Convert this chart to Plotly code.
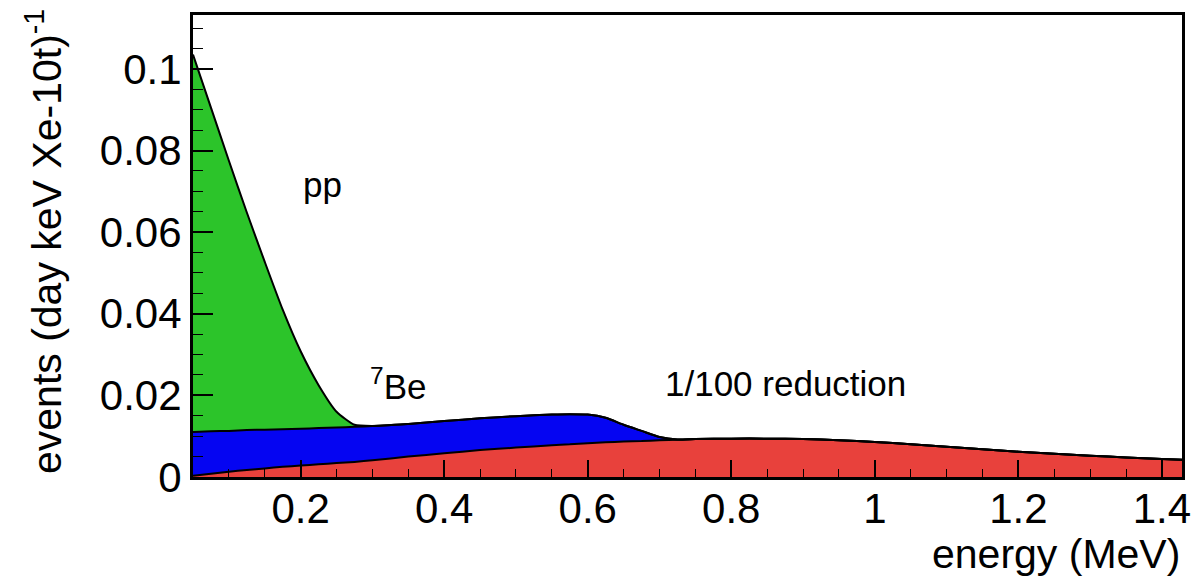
import plotly.graph_objects as go

# Electron-recoil energy grid (MeV)
energy = [0.05, 0.075, 0.10, 0.125, 0.15, 0.175, 0.20, 0.225, 0.25, 0.275,
          0.30, 0.35, 0.40, 0.45, 0.50, 0.55, 0.575, 0.60, 0.625, 0.65,
          0.675, 0.70, 0.725, 0.75, 0.80, 0.85, 0.90, 0.95, 1.00, 1.05,
          1.10, 1.15, 1.20, 1.25, 1.30, 1.35, 1.40, 1.43]

# Reduced background (1/100), events (day keV Xe-10t)^-1
reduced = [0.0003, 0.0008, 0.0013, 0.0017, 0.0021, 0.0025, 0.0028, 0.0031, 0.0034, 0.0037,
           0.0041, 0.0050, 0.0058, 0.0066, 0.0072, 0.0078, 0.0080, 0.0083, 0.0085, 0.0087,
           0.0088, 0.0090, 0.0091, 0.0093, 0.0094, 0.0094, 0.0093, 0.0090, 0.0086, 0.0080,
           0.0074, 0.0068, 0.0062, 0.0057, 0.0052, 0.0048, 0.0044, 0.0042]

# 7Be solar neutrino component
be7 = [0.0107, 0.0104, 0.0100, 0.0098, 0.0095, 0.0092, 0.0090, 0.0089, 0.0087, 0.0086,
       0.0084, 0.0080, 0.0079, 0.0078, 0.0077, 0.0075, 0.0074, 0.0070, 0.0060, 0.0041,
       0.0025, 0.0008, 0.0001, 0.0, 0.0, 0.0, 0.0, 0.0, 0.0, 0.0,
       0.0, 0.0, 0.0, 0.0, 0.0, 0.0, 0.0, 0.0]

# pp solar neutrino component
pp = [0.0925, 0.0793, 0.0662, 0.0533, 0.0411, 0.0293, 0.0190, 0.0105, 0.0039, 0.0005,
      0.0, 0.0, 0.0, 0.0, 0.0, 0.0, 0.0, 0.0, 0.0, 0.0,
      0.0, 0.0, 0.0, 0.0, 0.0, 0.0, 0.0, 0.0, 0.0, 0.0,
      0.0, 0.0, 0.0, 0.0, 0.0, 0.0, 0.0, 0.0]

FONT = "Liberation Sans, Arial, Helvetica, sans-serif"

fig = go.Figure()
for name, vals, color in [("1/100 reduction", reduced, "#e8413c"),
                          ("7Be", be7, "#0505f2"),
                          ("pp", pp, "#2cc42a")]:
    fig.add_trace(go.Scatter(
        x=energy, y=vals, name=name, mode="lines", stackgroup="one",
        fillcolor=color,
        line=dict(color="black", width=2, shape="spline", smoothing=0.6),
        hoverinfo="x+y+name",
    ))

labels = [("pp", 0.230, 0.0716), ("<sup>7</sup>Be", 0.336, 0.0228),
          ("1/100 reduction", 0.875, 0.0228)]
for text, xv, yv in labels:
    fig.add_annotation(x=xv, y=yv, text=text, showarrow=False,
                       font=dict(family=FONT, size=35, color="black"),
                       xanchor="center", yanchor="middle")

# axis titles, ROOT style: x title flush right, y title rotated
fig.add_annotation(xref="paper", yref="paper", x=1.0, y=-0.112,
                   text="energy (MeV)", showarrow=False,
                   xanchor="right", yanchor="top",
                   font=dict(family=FONT, size=41, color="black"))
fig.add_annotation(xref="paper", yref="paper", x=-0.150, y=0.51,
                   text="events (day keV Xe-10t)<sup>-1</sup>", showarrow=False,
                   textangle=-90, xanchor="center", yanchor="middle",
                   font=dict(family=FONT, size=41, color="black"))

axis_common = dict(showgrid=False, zeroline=False, showline=True, mirror=True,
                   linecolor="black", linewidth=3, ticks="inside",
                   tickcolor="black", tickwidth=1.5,
                   tickfont=dict(family=FONT, size=42, color="black"))

fig.update_xaxes(range=[0.05, 1.428], dtick=0.2, tick0=0, ticklen=17,
                 ticklabelstandoff=-7,
                 minor=dict(dtick=0.05, ticks="inside", ticklen=8,
                            tickcolor="black", tickwidth=1.2),
                 **axis_common)
fig.update_yaxes(range=[0, 0.1132], dtick=0.02, tick0=0, ticklen=20,
                 minor=dict(dtick=0.005, ticks="inside", ticklen=10,
                            tickcolor="black", tickwidth=1.2),
                 **axis_common)

fig.update_layout(width=1203, height=576,
                  margin=dict(l=193, r=16, t=14, b=99),
                  paper_bgcolor="white", plot_bgcolor="white",
                  showlegend=False, font=dict(family=FONT))

fig.write_html("out.html")
